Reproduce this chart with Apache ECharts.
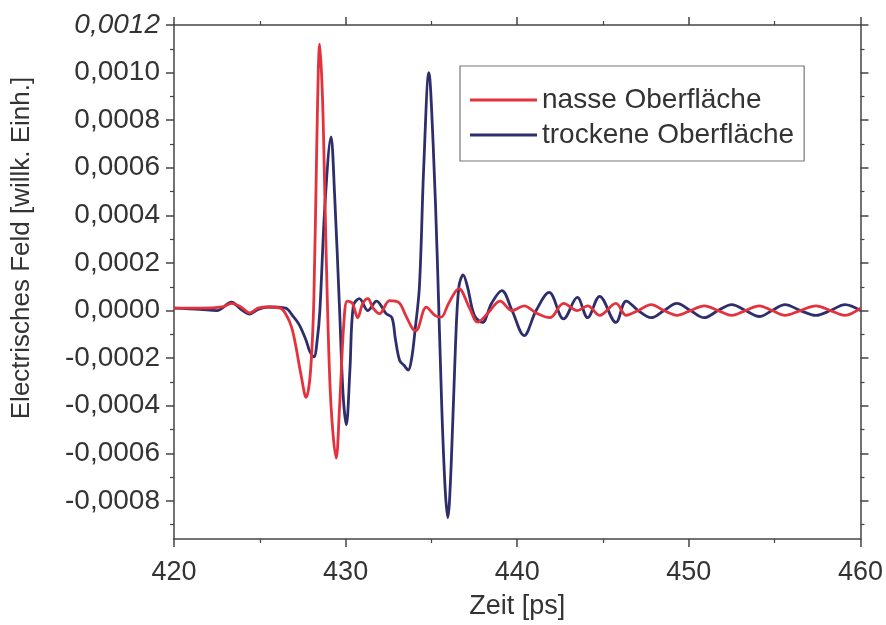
<!DOCTYPE html>
<html><head><meta charset="utf-8">
<script src="https://cdn.jsdelivr.net/npm/echarts@6/dist/echarts.min.js"></script>
<style>html,body{margin:0;padding:0;background:#fff}#c{width:886px;height:625px}</style>
</head><body><div id="c"></div>
<script>
// ---- data (time in ps, field in arbitrary units) ----
const wetTime = [420.0,421.5,422.8,423.35,423.9,424.4,424.9,425.5,426.2,426.55,426.85,427.1,427.4,427.7,427.95,428.15,428.32,428.49,428.65,428.8,428.95,429.15,429.45,429.65,429.9,430.1,430.4,430.7,431.0,431.3,431.6,431.98,432.56,433.1,433.5,433.9,434.1,434.7,435.2,435.56,436.0,436.6,437.2,437.7,438.3,439.0,439.7,440.4,441.1,441.9,442.7,443.5,444.1,444.8,445.75,446.35,447.05,447.8,448.55,449.3,450.1,450.9,451.7,452.5,453.3,454.1,454.85,455.6,456.5,457.4,458.25,459.1,460.0];
const wetField = [0.00001,0.00001,0.000015,0.00003,0.000015,-0.00001,0.00001,0.000015,0.00001,-0.00002,-0.00007,-0.00015,-0.00027,-0.000365,-0.00026,0.00005,0.00070,0.00112,0.00090,0.00045,0.0,-0.00040,-0.00062,-0.00040,-0.00005,0.00004,0.00003,-0.00003,0.00003,0.00005,0.00001,-0.000013,0.000042,0.000034,-0.00002,-0.000076,-0.000084,0.000014,-0.00002,-0.000028,0.00003,0.000092,0.000014,-0.000049,-0.00001,0.00004,0.0,0.00002,-0.00001,-0.00003,0.00003,0.0,0.00002,-0.00002,0.00003,-0.00002,0.0,0.000025,0.0,-0.00002,0.0,0.00002,0.0,-0.00002,0.0,0.00002,0.0,-0.00002,0.0,0.00002,0.0,-0.00002,0.00001];
const dryTime = [420.0,421.5,422.5,423.35,423.9,424.4,424.9,425.5,426.5,426.9,427.3,427.7,427.9,428.15,428.35,428.5,428.8,429.15,429.35,429.65,429.85,430.04,430.25,430.45,430.8,431.3,431.8,432.36,432.7,432.9,433.15,433.4,433.65,433.85,434.05,434.3,434.55,434.85,435.1,435.35,435.6,435.8,435.95,436.15,436.4,436.6,436.85,437.1,437.5,437.97,438.5,439.1,439.7,440.4,441.1,441.86,442.7,443.5,444.1,444.8,445.75,446.35,447.05,447.8,448.55,449.3,450.1,450.9,451.7,452.5,453.3,454.1,454.85,455.6,456.5,457.4,458.25,459.1,460.0];
const dryField = [0.00001,0.000005,0.0,0.000035,0.000005,-0.000015,0.000005,0.000015,0.00001,-0.00002,-0.00006,-0.000126,-0.00017,-0.000195,-0.00012,0.0,0.00045,0.00073,0.00050,0.0,-0.00035,-0.00048,-0.00025,0.00002,0.00005,0.0,0.00004,-0.000013,-0.00003,-0.00012,-0.00021,-0.00023,-0.00025,-0.00020,-0.00008,0.00010,0.00060,0.00100,0.00070,0.00020,-0.00040,-0.00075,-0.00087,-0.00065,-0.00015,0.00010,0.00015,0.00010,-0.00002,-0.00005,0.00003,0.000084,0.0,-0.000105,0.0,0.000076,-0.000035,0.000055,-0.00003,0.00006,-0.00005,0.00004,0.0,-0.00003,0.0,0.00003,0.0,-0.00003,0.0,0.000025,0.0,-0.000025,0.0,0.000025,0.0,-0.00002,0.0,0.000025,0.0];
const seriesNames = ['nasse Oberfläche', 'trockene Oberfläche'];
const xTickValues = [420, 430, 440, 450, 460];
const yTickValues = [-0.0008, -0.0006, -0.0004, -0.0002, 0, 0.0002, 0.0004, 0.0006, 0.0008, 0.0010, 0.0012];
const yMinorTickValues = [-0.0009, -0.0007, -0.0005, -0.0003, -0.0001, 0.0001, 0.0003, 0.0005, 0.0007, 0.0009, 0.0011];
const xTitle = 'Zeit [ps]';
const yTitle = 'Electrisches Feld [willk. Einh.]';

const FONT = '"Liberation Sans", Arial, Helvetica, sans-serif';
const TXT = '#333';
const AX = '#444';
const YMIN = -0.00096, YMAX = 0.0012;

function pairs(xs, ys) { return xs.map((x, i) => [x, ys[i]]); }
function fmtY(v) {
  const s = v.toFixed(4).replace('.', ',');
  return v > 0.00115 ? '{it|' + s + '}' : s;
}

const chart = echarts.init(document.getElementById('c'), null, {renderer: 'canvas'});
const lineAx = {show: true, onZero: false, lineStyle: {color: AX, width: 1.5}};
const yBase = {type: 'value', min: YMIN, max: YMAX, splitLine: {show: false}};
chart.setOption({
  animation: false,
  backgroundColor: '#fff',
  grid: {left: 174, right: 24, top: 25, bottom: 85, containLabel: false},
  legend: {
    orient: 'vertical', left: 460, top: 66,
    icon: 'rect',
    itemWidth: 67, itemHeight: 3, itemGap: 7,
    padding: [20, 10, 12, 10],
    borderColor: '#777', borderWidth: 1.2,
    textStyle: {fontSize: 28, fontFamily: FONT, color: TXT},
    data: seriesNames
  },
  graphic: [{
    type: 'text', x: 22, y: 248, rotation: Math.PI / 2,
    style: {text: yTitle, fontSize: 26, fontFamily: FONT, fill: TXT, align: 'center', verticalAlign: 'middle'}
  }],
  xAxis: [
    {type: 'value', position: 'bottom', min: xTickValues[0], max: xTickValues[xTickValues.length - 1], interval: 10,
     axisLine: lineAx,
     axisTick: {show: true, inside: false, length: 8, lineStyle: {color: AX, width: 1.5}},
     minorTick: {show: true, splitNumber: 2, length: 4, lineStyle: {color: AX, width: 1.2}},
     axisLabel: {fontSize: 27, fontFamily: FONT, color: TXT, margin: 20},
     splitLine: {show: false},
     name: xTitle, nameLocation: 'middle', nameGap: 54,
     nameTextStyle: {fontSize: 27, fontFamily: FONT, color: TXT}},
    {type: 'value', position: 'top', min: xTickValues[0], max: xTickValues[xTickValues.length - 1], interval: 10,
     axisLine: lineAx,
     axisTick: {show: true, inside: false, length: 8, lineStyle: {color: AX, width: 1.5}},
     minorTick: {show: true, splitNumber: 2, length: 4, lineStyle: {color: AX, width: 1.2}},
     axisLabel: {show: false}, splitLine: {show: false}}
  ],
  yAxis: [
    Object.assign({}, yBase, {position: 'left',
      axisLine: lineAx,
      axisTick: {show: true, inside: false, length: 8, customValues: yTickValues, lineStyle: {color: AX, width: 1.5}},
      axisLabel: {show: true, customValues: yTickValues, formatter: fmtY, fontSize: 28, fontFamily: FONT, color: TXT, margin: 14,
                  rich: {it: {fontStyle: 'italic', fontSize: 28, fontFamily: FONT, color: TXT}}}}),
    Object.assign({}, yBase, {position: 'left',
      axisLine: {show: false},
      axisTick: {show: true, inside: false, length: 4, customValues: yMinorTickValues, lineStyle: {color: AX, width: 1.2}},
      axisLabel: {show: false}}),
    Object.assign({}, yBase, {position: 'right',
      axisLine: lineAx,
      axisTick: {show: true, inside: false, length: 8, customValues: yTickValues, lineStyle: {color: AX, width: 1.5}},
      axisLabel: {show: false}}),
    Object.assign({}, yBase, {position: 'right',
      axisLine: {show: false},
      axisTick: {show: true, inside: false, length: 4, customValues: yMinorTickValues, lineStyle: {color: AX, width: 1.2}},
      axisLabel: {show: false}})
  ],
  series: [
    {name: seriesNames[0], type: 'line', data: pairs(wetTime, wetField), xAxisIndex: 0, yAxisIndex: 0,
     symbol: 'none', smooth: 0.35, lineStyle: {color: '#e3323c', width: 2.8}, itemStyle: {color: '#e3323c'}, z: 3},
    {name: seriesNames[1], type: 'line', data: pairs(dryTime, dryField), xAxisIndex: 0, yAxisIndex: 0,
     symbol: 'none', smooth: 0.35, lineStyle: {color: '#2f2e6c', width: 2.8}, itemStyle: {color: '#2f2e6c'}, z: 2}
  ]
});
</script>
</body></html>
